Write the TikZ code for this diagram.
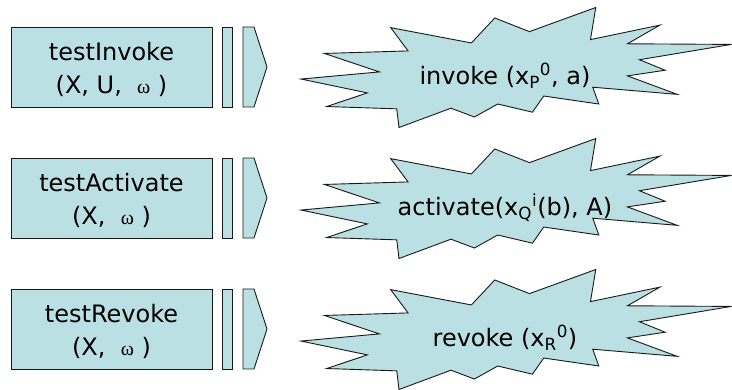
\documentclass[tikz,border=0pt]{standalone}
\usepackage{fontspec}
\setmainfont{DejaVu Sans}
\newfontfamily\symfont{Liberation Serif}
\definecolor{pptfill}{HTML}{BBE0E3}
\newcommand{\om}{{\symfont\fontsize{20}{20}\selectfont ω}}
% outline of the explosion, on a 216 x 216 grid
\newcommand{\bangpath}{(114.62,43.42) -- (147.90,0) -- (145.25,57.77) -- (180.07,31.72) -- (163.80,65.32) -- (216,66.45) -- (169.85,94.02) -- (182.70,112.90) -- (163.80,123.10) -- (188.77,156.32) -- (146.40,143.50) -- (149.42,173.70) -- (121.80,159.35) -- (116.12,188.42) -- (98.72,173.70) -- (87.00,197.12) -- (75.27,181.25) -- (49.17,216) -- (48.05,182.40) -- (12.85,178.25) -- (33.30,153.70) -- (0,128.77) -- (39.35,115.92) -- (11.72,82.70) -- (53.72,78.17) -- (45.02,36.25) -- (85.50,63.82) -- (97.22,18.87) -- cycle}

\begin{document}
\begin{tikzpicture}[x=1pt, y=-1pt,
		pptshape/.style={draw=black!90, line width=0.9pt, fill=pptfill, line join=miter},
		box/.style={pptshape, rectangle, minimum width=201pt, minimum height=80pt, inner sep=0pt, align=center, font=\fontsize{24}{33}\selectfont},
		bar/.style={pptshape, rectangle, minimum width=10pt, minimum height=80pt, inner sep=0pt},
		bangtext/.style={anchor=base, inner sep=0pt, font=\fontsize{24}{29}\selectfont}]
	\useasboundingbox (0,0) rectangle (732,390);
	\foreach \c/\rowname/\top/\bottom/\bang in {
			67/inv/{testInvoke}/{(X, U,\ \ \om\ )}/{invoke (x\textsubscript{P}\textsuperscript{0}, a)},
			198/act/{testActivate}/{(X,\ \ \om\ )}/{activate(x\textsubscript{Q}\textsuperscript{i}(b), A)},
			329/rev/{testRevoke}/{(X,\ \ \om\ )}/{revoke (x\textsubscript{R}\textsuperscript{0})}}
	{
		\node[box] (\rowname box) at (111.5,\c) {\rule{0pt}{24pt}\top\\\bottom};
		\node[bar] (\rowname bar) at (227,\c) {};
		\draw[pptshape] (243,\c-40) -- (254,\c-40) -- (267,\c) -- (254,\c+40) -- (243,\c+40) -- cycle;
		\begin{scope}[shift={(301,\c-59.5)}, xscale=1.993, yscale=0.5556]
			\draw[pptshape] \bangpath;
		\end{scope}
		\node[bangtext] (\rowname) at (505,\c+17.5) {\bang};
	}
\end{tikzpicture}
\end{document}
